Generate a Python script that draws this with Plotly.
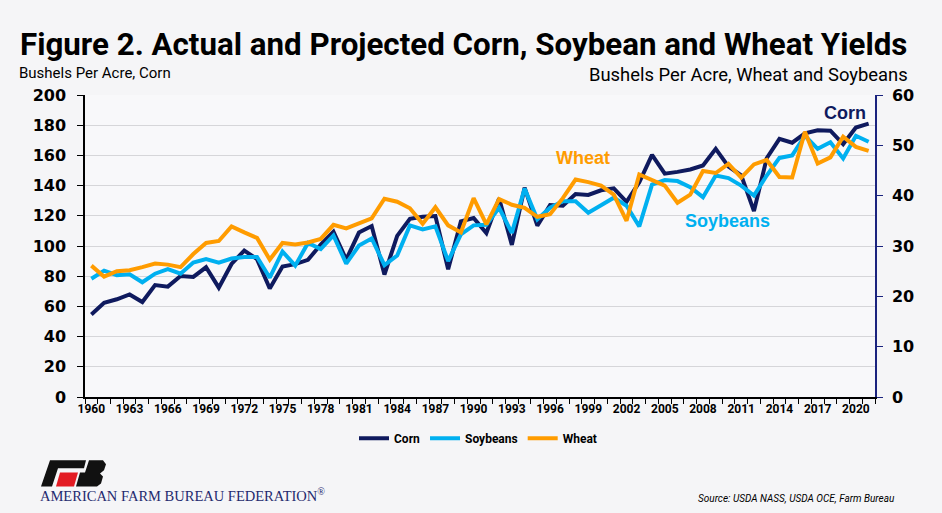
import plotly.graph_objects as go

years = list(range(1960, 2022))
corn = [54.7, 62.4, 64.7, 67.9, 62.9, 74.1, 73.1, 80.1, 79.5, 85.9,
        72.4, 88.1, 97.0, 91.3, 71.9, 86.4, 88.0, 90.8, 101.0, 109.5,
        91.0, 108.9, 113.2, 81.1, 106.7, 118.0, 119.4, 119.8, 84.6, 116.3,
        118.5, 108.6, 131.5, 100.7, 138.6, 113.5, 127.1, 126.7, 134.4, 133.8,
        136.9, 138.2, 129.3, 142.2, 160.3, 147.9, 149.1, 150.7, 153.3, 164.4,
        152.6, 146.8, 123.1, 158.1, 171.0, 168.4, 174.6, 176.6, 176.4, 167.5,
        178.5, 181.0]
soybeans = [23.5, 25.1, 24.2, 24.4, 22.8, 24.5, 25.4, 24.5, 26.7, 27.4,
            26.7, 27.5, 27.8, 27.8, 23.7, 28.9, 26.1, 30.6, 29.4, 32.1,
            26.5, 30.1, 31.5, 26.2, 28.1, 34.1, 33.3, 33.9, 27.0, 32.3,
            34.1, 34.2, 37.6, 32.6, 41.4, 35.3, 37.6, 38.9, 38.9, 36.6,
            38.1, 39.6, 38.0, 33.9, 42.2, 43.1, 42.9, 41.7, 39.7, 44.0,
            43.5, 42.0, 40.0, 44.0, 47.5, 48.0, 51.9, 49.3, 50.6, 47.4,
            51.9, 50.7]
wheat = [26.1, 23.9, 25.0, 25.2, 25.8, 26.5, 26.3, 25.8, 28.4, 30.6,
         31.0, 33.9, 32.7, 31.6, 27.3, 30.6, 30.3, 30.7, 31.4, 34.2,
         33.5, 34.5, 35.5, 39.4, 38.8, 37.5, 34.4, 37.7, 34.1, 32.7,
         39.5, 34.3, 39.3, 38.2, 37.6, 35.8, 36.3, 39.5, 43.2, 42.7,
         42.0, 40.2, 35.0, 44.2, 43.2, 42.0, 38.6, 40.2, 44.9, 44.5,
         46.3, 43.6, 46.2, 47.1, 43.7, 43.6, 52.7, 46.4, 47.6, 51.7,
         49.7, 48.9]
x_tick_years = list(range(1960, 2021, 3))
left_ticks = list(range(0, 201, 20))
right_ticks = list(range(0, 61, 10))

CORN_C = "#0f1a5e"
SOY_C = "#00b0f0"
WHEAT_C = "#ff9c00"
ROBOTO = "Roboto, Liberation Sans, sans-serif"
BOLDW = "DejaVu Sans, sans-serif"
BG = "#f5f5f7"

W, H = 942, 513
L, R, T, B = 85, 875, 95, 396.7


def px(x):
    return (x - L) / (R - L)


def py(y):
    return (B - y) / (B - T)


fig = go.Figure()
fig.add_trace(go.Scatter(x=years, y=corn, name="Corn", mode="lines",
                         line=dict(color=CORN_C, width=4), yaxis="y"))
fig.add_trace(go.Scatter(x=years, y=soybeans, name="Soybeans", mode="lines",
                         line=dict(color=SOY_C, width=4), yaxis="y2"))
fig.add_trace(go.Scatter(x=years, y=wheat, name="Wheat", mode="lines",
                         line=dict(color=WHEAT_C, width=4), yaxis="y2"))

fig.update_layout(
    width=W, height=H,
    margin=dict(l=L, r=W - R, t=T, b=H - B, autoexpand=False),
    paper_bgcolor=BG,
    plot_bgcolor="#f8f8fa",
    showlegend=True,
    legend=dict(orientation="h", x=px(478), xanchor="center", y=py(438), yanchor="middle",
                font=dict(family=ROBOTO, size=12, color="#000", weight="bold"), itemwidth=30,
                bgcolor="rgba(0,0,0,0)", tracegroupgap=0),
    xaxis=dict(range=[1959.5, 2021.5], tickvals=x_tick_years, ticks="",
               showgrid=False, zeroline=False, showline=True, linecolor="#000", linewidth=1.5,
               tickfont=dict(family=ROBOTO, size=12, color="#000", weight="bold"),
               minor=dict(ticks="outside", tick0=1959.5, dtick=1, ticklen=5,
                          tickcolor="#000", tickwidth=1, showgrid=False)),
    yaxis=dict(range=[0, 200], tickvals=left_ticks, ticks="outside", ticklen=6,
               tickcolor="#000", showline=True, linecolor="#000", linewidth=1.5,
               showgrid=True, gridcolor="#d6d6d9", gridwidth=1, zeroline=False,
               ticklabelstandoff=8,
               tickfont=dict(family=BOLDW, size=16, color="#000", weight="bold")),
    yaxis2=dict(range=[0, 60], tickvals=right_ticks, overlaying="y", side="right",
                ticks="outside", ticklen=6, tickcolor="#1a237e", showline=True,
                linecolor="#1a237e", linewidth=1.5, showgrid=False, zeroline=False,
                ticklabelstandoff=6,
                tickfont=dict(family=BOLDW, size=16, color="#000", weight="bold")),
)

ann = [
    dict(text="Figure 2. Actual and Projected Corn, Soybean and Wheat Yields",
         x=px(18), y=py(45), xanchor="left", yanchor="middle",
         font=dict(family=ROBOTO, size=31.3, color="#000", weight="bold")),
    dict(text="Bushels Per Acre, Corn", x=px(17), y=py(73), xanchor="left", yanchor="middle",
         font=dict(family=ROBOTO, size=15, color="#000")),
    dict(text="Bushels Per Acre, Wheat and Soybeans", x=px(910), y=py(75), xanchor="right",
         yanchor="middle", font=dict(family=ROBOTO, size=18.4, color="#000")),
    dict(text="<b>Corn</b>", x=px(845), y=py(113), xanchor="center", yanchor="middle",
         font=dict(family="Liberation Sans, Arial, sans-serif", size=18, color=CORN_C)),
    dict(text="<b>Wheat</b>", x=px(583), y=py(158), xanchor="center", yanchor="middle",
         font=dict(family="Liberation Sans, Arial, sans-serif", size=18, color=WHEAT_C)),
    dict(text="<b>Soybeans</b>", x=px(727), y=py(221), xanchor="center", yanchor="middle",
         font=dict(family="Liberation Sans, Arial, sans-serif", size=18, color=SOY_C)),
    dict(text="AMERICAN FARM BUREAU FEDERATION<sup>®</sup>", x=px(38), y=py(495),
         xanchor="left", yanchor="middle",
         font=dict(family="Liberation Serif, serif", size=14.5, color="#1f2a6e")),
    dict(text="<i>Source: USDA NASS, USDA OCE, Farm Bureau</i>", x=px(897), y=py(498),
         xanchor="right", yanchor="middle",
         font=dict(family=ROBOTO, size=10, color="#000")),
]
for a in ann:
    a.update(xref="paper", yref="paper", showarrow=False)
fig.update_layout(annotations=ann)


def path(points):
    return "M " + " L ".join(f"{px(a):.5f},{py(b):.5f}" for a, b in points) + " Z"


logo_shapes = [
    # F: top bar and stem
    dict(path=path([(50, 460), (86, 460), (84, 468), (58, 468), (52, 486), (41, 486)]),
         fillcolor="#111111"),
    # red inset
    dict(path=path([(60, 472), (78, 472), (74, 486), (56, 486)]), fillcolor="#e31b23"),
    # B
    dict(path=path([(89, 460), (103, 460), (106, 464), (104, 470), (100, 473), (103, 476),
                    (101, 483), (97, 486), (76, 486), (80, 472), (85, 472)]),
         fillcolor="#111111"),
]
for s in logo_shapes:
    s.update(type="path", xref="paper", yref="paper", line=dict(width=0), layer="above")
fig.update_layout(shapes=logo_shapes)

fig.write_html(
    "out.html",
    config={"displayModeBar": False},
    post_script=f"document.body.style.margin='0';document.body.style.background='{BG}';",
)
